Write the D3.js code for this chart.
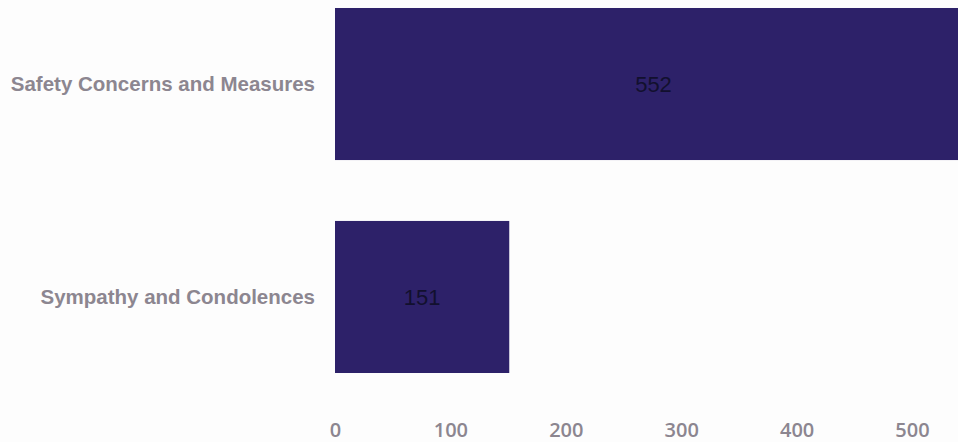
<!DOCTYPE html>
<html>
<head>
<meta charset="utf-8">
<script src="https://cdn.jsdelivr.net/npm/d3@7"></script>
<style>
  html, body { margin: 0; padding: 0; background: #fdfdfd; }
  svg { display: block; }
</style>
</head>
<body>
<svg id="chart" width="958" height="442"></svg>
<script>
const categories = ["Safety Concerns and Measures", "Sympathy and Condolences"];
const values = [552, 151];
const xTicks = [0, 100, 200, 300, 400, 500];

const W = 958, H = 442;
const svg = d3.select("#chart");

const x = d3.scaleLinear().domain([0, 500]).range([335, 912]);
const y = d3.scaleBand().domain(categories).range([-13.3, 394.3])
  .paddingInner(0.286).paddingOuter(0.1);

svg.append("defs").append("clipPath").attr("id", "clip")
  .append("rect").attr("x", 0).attr("y", 0).attr("width", W).attr("height", H);

const g = svg.append("g").attr("clip-path", "url(#clip)");

g.selectAll("rect.bar").data(categories).join("rect")
  .attr("class", "bar")
  .attr("x", x(0))
  .attr("y", d => y(d))
  .attr("width", (d, i) => x(values[i]) - x(0))
  .attr("height", y.bandwidth())
  .attr("fill", "#2d2169");

g.selectAll("text.val").data(categories).join("text")
  .attr("class", "val")
  .attr("x", (d, i) => (x(0) + x(values[i])) / 2)
  .attr("y", d => y(d) + y.bandwidth() / 2)
  .attr("dy", "0.35em")
  .attr("text-anchor", "middle")
  .attr("font-family", "Liberation Sans, Arial, sans-serif")
  .attr("font-size", 22)
  .attr("fill", "#12102e")
  .text((d, i) => values[i]);

// category axis (no line/ticks)
const yAxis = svg.append("g").attr("transform", `translate(${x(0) - 20},0)`)
  .call(d3.axisLeft(y).tickSize(0).tickPadding(0));
yAxis.select(".domain").remove();
yAxis.selectAll("text")
  .attr("font-family", "Liberation Sans, Arial, sans-serif")
  .attr("font-size", 20.5)
  .attr("font-weight", "bold")
  .attr("fill", "#8c8690");

// value axis
const xAxis = svg.append("g").attr("transform", `translate(0,423)`)
  .call(d3.axisBottom(x).tickValues(xTicks).tickSize(0).tickPadding(0));
xAxis.select(".domain").remove();
xAxis.selectAll("text")
  .attr("font-family", "Open Sans, sans-serif")
  .attr("font-size", 20)
  .attr("font-weight", 600)
  .attr("fill", "#8c8690");
</script>
</body>
</html>
